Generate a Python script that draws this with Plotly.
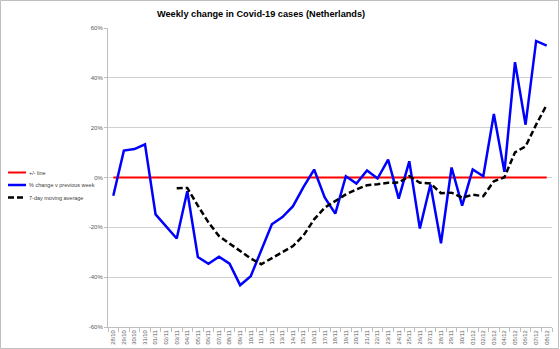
import plotly.graph_objects as go

dates = ["28/10", "29/10", "30/10", "31/10", "01/11", "02/11", "03/11", "04/11", "05/11", "06/11",
         "07/11", "08/11", "09/11", "10/11", "11/11", "12/11", "13/11", "14/11", "15/11", "16/11",
         "17/11", "18/11", "19/11", "20/11", "21/11", "22/11", "23/11", "24/11", "25/11", "26/11",
         "27/11", "28/11", "29/11", "30/11", "01/12", "02/12", "03/12", "04/12", "05/12", "06/12",
         "07/12", "08/12"]

weekly_change = [-7.3, 10.8, 11.4, 13.3, -14.8, -19.8, -24.5, -5.5, -31.9, -34.6,
                 -31.8, -34.6, -43.2, -39.6, -29.0, -18.8, -15.9, -11.5, -3.8, 3.2,
                 -8.0, -14.5, 0.5, -2.4, 2.8, -0.4, 7.2, -8.5, 6.5, -20.5,
                 -2.8, -26.4, 4.0, -11.3, 3.2, 0.5, 25.5, 2.3, 46.3, 21.2,
                 54.8, 52.9]

moving_avg = [None, None, None, None, None, None, -4.3, -4.2, -11.3, -18.0,
              -23.5, -26.5, -29.6, -32.5, -34.8, -32.4, -30.1, -27.5, -23.2, -16.8,
              -12.1, -9.5, -6.8, -4.8, -3.1, -2.7, -2.1, -2.0, 0.5, -2.1,
              -2.4, -6.3, -6.1, -8.1, -6.9, -7.5, -1.5, 0.1, 10.1, 12.5,
              21.2, 29.2]

zero_line = [0] * len(dates)

y_ticks = [-60, -40, -20, 0, 20, 40, 60]
y_tick_labels = ["-60%", "-40%", "-20%", "0%", "20%", "40%", "60%"]

legend_names = ["+/- line", "% change v previous week", "7-day moving average"]

W, H = 560, 349
ML, MR, MT, MB = 108, 8, 28, 22
PW, PH = W - ML - MR, H - MT - MB

fig = go.Figure()
fig.add_trace(go.Scatter(x=dates, y=zero_line, mode="lines", name=legend_names[0],
                         line=dict(color="#FF0000", width=2), showlegend=False))
fig.add_trace(go.Scatter(x=dates, y=weekly_change, mode="lines", name=legend_names[1],
                         line=dict(color="#0000FF", width=2.5), showlegend=False))
fig.add_trace(go.Scatter(x=dates, y=moving_avg, mode="lines", name=legend_names[2],
                         line=dict(color="#000000", width=2.5, dash="6px,3px"), showlegend=False))

def px_x(p):
    return (p - ML) / PW

def px_y(p):
    return (H - MB - p) / PH

shapes = []
annotations = []
leg_styles = [dict(color="#FF0000", width=2), dict(color="#0000FF", width=2.5),
              dict(color="#000000", width=2.5, dash="6px,3px")]
for k, (name, st) in enumerate(zip(legend_names, leg_styles)):
    yp = 172.5 + k * 12.5
    shapes.append(dict(type="line", xref="paper", yref="paper",
                       x0=px_x(8), x1=px_x(26), y0=px_y(yp), y1=px_y(yp), line=st))
    annotations.append(dict(xref="paper", yref="paper", x=px_x(26.5), y=px_y(yp),
                            xanchor="left", yanchor="middle", showarrow=False,
                            text=name, font=dict(size=5.5, color="#404040",
                                                 family="Liberation Sans, Arial, sans-serif")))

# chart-area border
shapes.append(dict(type="rect", xref="paper", yref="paper", layer="below",
                   x0=px_x(0.5), x1=px_x(W - 1.5), y0=px_y(H - 0.5), y1=px_y(0.5),
                   line=dict(color="#BFBFBF", width=1)))

annotations.append(dict(xref="paper", yref="paper", x=px_x(261), y=px_y(14),
                        xanchor="center", yanchor="middle", showarrow=False,
                        text="<b>Weekly change in Covid-19 cases (Netherlands)</b>",
                        font=dict(size=9.2, color="#000000",
                                  family="Liberation Sans, Arial, sans-serif")))

fig.update_layout(
    width=W, height=H,
    margin=dict(l=ML, r=MR, t=MT, b=MB, autoexpand=False),
    paper_bgcolor="white", plot_bgcolor="white",
    shapes=shapes, annotations=annotations,
    showlegend=False,
    font=dict(family="Liberation Sans, Arial, sans-serif"),
)

fig.update_xaxes(type="category", categoryorder="array", categoryarray=dates,
                 range=[-0.5, len(dates) - 0.5], tickangle=-90,
                 tickfont=dict(size=5.8, color="#595959"),
                 ticks="outside", tickson="boundaries", ticklen=4, tickcolor="#BFBFBF",
                 showline=True, linecolor="#BFBFBF", linewidth=1,
                 showgrid=False, automargin=False, zeroline=False)

fig.update_yaxes(range=[-60, 60], tickmode="array", tickvals=y_ticks, ticktext=y_tick_labels,
                 tickfont=dict(size=6, color="#595959"),
                 ticks="outside", ticklen=3, tickcolor="#BFBFBF",
                 showline=True, linecolor="#BFBFBF", linewidth=1,
                 showgrid=True, gridcolor="#D0D0D0", gridwidth=1,
                 zeroline=False, automargin=False)

fig.write_html("out.html")
